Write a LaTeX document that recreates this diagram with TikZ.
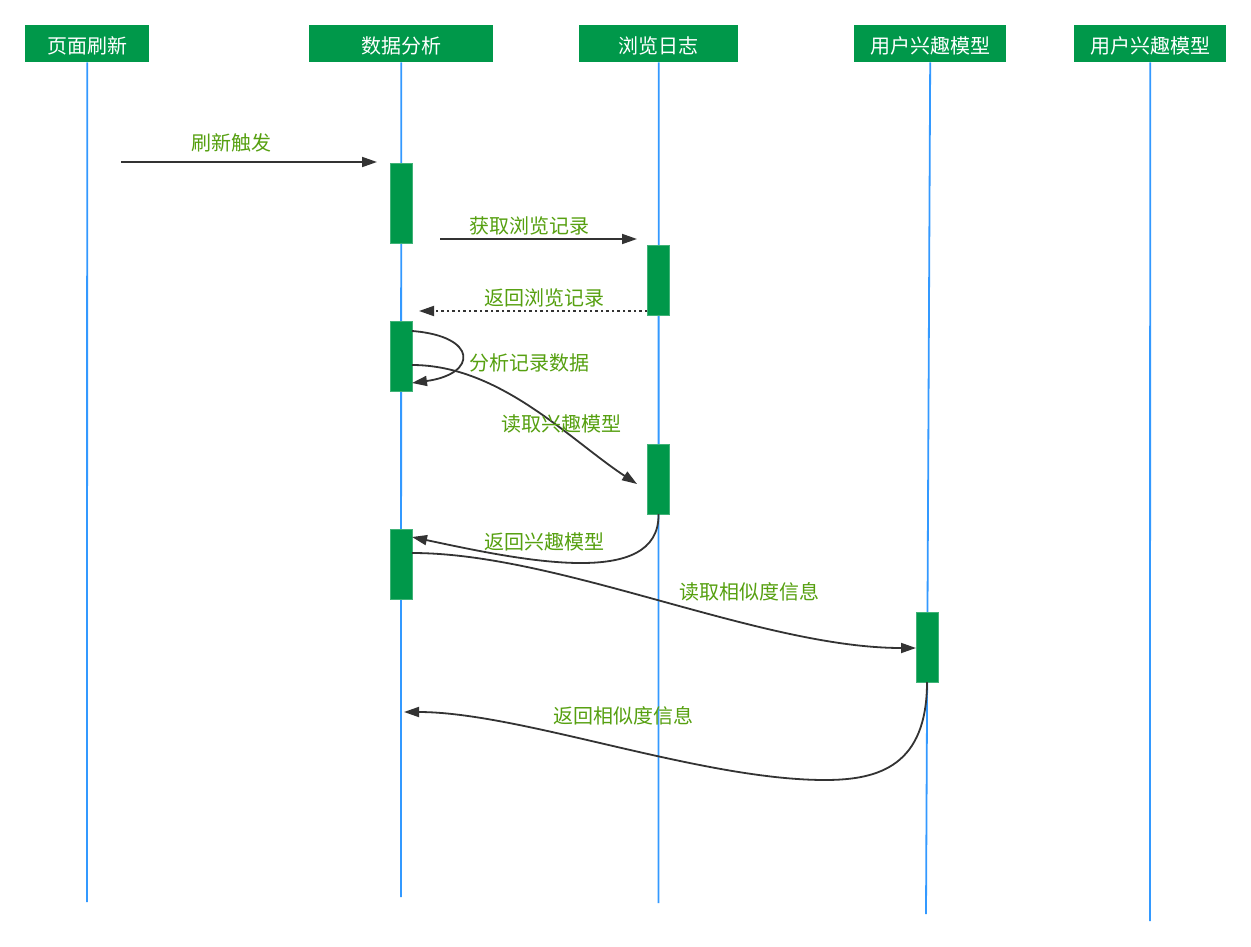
\documentclass[tikz,border=0pt]{standalone}
\usepackage{fontspec}
\setmainfont{Noto Sans CJK SC}
\usetikzlibrary{arrows.meta}
\definecolor{hdr}{RGB}{0,152,74}
\definecolor{life}{RGB}{51,153,255}
\definecolor{lbl}{RGB}{86,160,16}
\definecolor{arr}{RGB}{51,51,51}
\tikzset{
  header/.style={fill=hdr, draw=none, text=white, minimum height=37pt, inner sep=0pt,
    text height=19pt, text depth=0pt,
    font=\fontsize{20}{20}\selectfont, anchor=north west},
  bar/.style={fill=hdr, draw=hdr!75!white, line width=0.8pt, minimum width=22pt, inner sep=0pt},
  lifeline/.style={draw=life, line width=1.8pt},
  msg/.style={draw=arr, line width=1.8pt, -{Triangle[length=15pt,width=10pt]}},
  retmsg/.style={msg, dash pattern=on 2.5pt off 3pt},
  lbltext/.style={text=lbl, font=\fontsize{20}{20}\selectfont, inner sep=0pt}
}
\begin{document}
\begin{tikzpicture}[x=1pt,y=-1pt]
\useasboundingbox (0,0) rectangle (1251,947);
\fill[white] (0,0) rectangle (1251,947);
% headers
\node[header, minimum width=124pt] (h1) at (25,25) {页面刷新};
\node[header, minimum width=184pt] (h2) at (309,25) {数据分析};
\node[header, minimum width=159pt] (h3) at (579,25) {浏览日志};
\node[header, minimum width=152pt] (h4) at (854,25) {用户兴趣模型};
\node[header, minimum width=152pt] (h5) at (1074,25) {用户兴趣模型};
% lifeline ends
\coordinate (e1) at (87,902);
\coordinate (e2) at (401,897);
\coordinate (e3) at (658.5,903);
\coordinate (e4) at (926,914);
\coordinate (e5) at (1150,921);
\draw[lifeline] (h1.south) -- (e1);
\draw[lifeline] (h2.south) -- (e2);
\draw[lifeline] (h3.south) -- (e3);
\draw[lifeline] (h4.south) -- (e4);
\draw[lifeline] (h5.south) -- (e5);
% activation bars
\node[bar, minimum height=80pt] (b1) at (401,203) {};
\node[bar, minimum height=70pt] (b2) at (658.5,280) {};
\node[bar, minimum height=70pt] (b3) at (401,356) {};
\node[bar, minimum height=70pt] (b4) at (658.5,479) {};
\node[bar, minimum height=70pt] (b5) at (401,564) {};
\node[bar, minimum height=70pt] (b6) at (927.5,647) {};
% message end points
\coordinate (m1s) at (121,162);   \coordinate (m1e) at (377,162);
\coordinate (m2s) at (440,239);   \coordinate (m2e) at (637,239);
\coordinate (m3s) at (647,311);   \coordinate (m3e) at (419,311);
\coordinate (m4s) at (412,331);   \coordinate (m4e) at (412,383);
\coordinate (m5s) at (412,365);   \coordinate (m5e) at (637,484);
\coordinate (m6s) at (658.5,514); \coordinate (m6e) at (412,537);
\coordinate (m7s) at (412,553);   \coordinate (m7e) at (916,648);
\coordinate (m8s) at (927,682);   \coordinate (m8m) at (825,780); \coordinate (m8e) at (404,712);
% messages
\draw[msg] (m1s) -- (m1e);
\draw[msg] (m2s) -- (m2e);
\draw[retmsg] (m3s) -- (m3e);
\draw[msg] (m4s) .. controls (478,336) and (478,374) .. (m4e);
\draw[msg] (m5s) .. controls (500,365) and (570,440) .. (m5e);
\draw[msg] (m6s) .. controls (660,590) and (520,560) .. (m6e);
\draw[msg] (m7s) .. controls (560,553) and (760,648) .. (m7e);
\draw[msg] (m8s) .. controls (927,765) and (880,780) .. (m8m) .. controls (700,780) and (520,712) .. (m8e);
% labels
\node[lbltext] (l1) at (231,143) {刷新触发};
\node[lbltext] (l2) at (529,226) {获取浏览记录};
\node[lbltext] (l3) at (544,298) {返回浏览记录};
\node[lbltext] (l4) at (529,363) {分析记录数据};
\node[lbltext] (l5) at (561,424) {读取兴趣模型};
\node[lbltext] (l6) at (544,542) {返回兴趣模型};
\node[lbltext] (l7) at (749,592) {读取相似度信息};
\node[lbltext] (l8) at (623,716) {返回相似度信息};
\end{tikzpicture}
\end{document}
